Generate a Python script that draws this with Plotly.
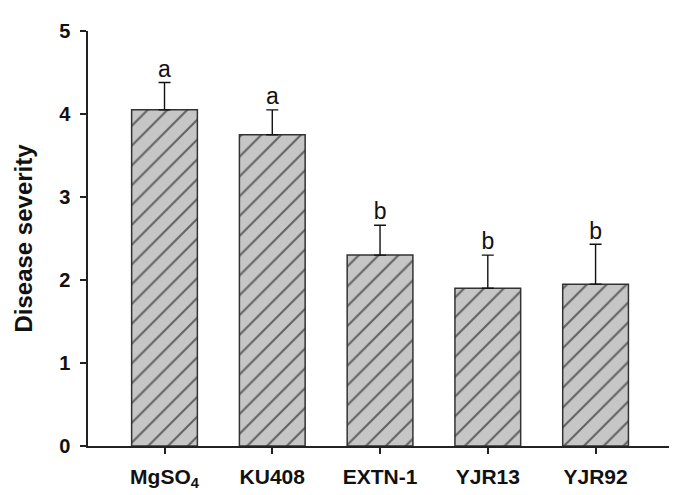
import plotly.graph_objects as go

categories = ["MgSO<sub>4</sub>", "KU408", "EXTN-1", "YJR13", "YJR92"]
severity = [4.05, 3.75, 2.30, 1.90, 1.95]
errors = [0.33, 0.30, 0.36, 0.40, 0.48]
letters = ["a", "a", "b", "b", "b"]

x_idx = list(range(len(categories)))

fig = go.Figure()
fig.add_trace(go.Bar(
    x=x_idx, y=severity, width=0.61,
    marker=dict(color="#c6c6c6",
                line=dict(color="#333333", width=1.5),
                pattern=dict(shape="/", fgcolor="#000000", size=14, solidity=0.15)),
    error_y=dict(type="data", symmetric=False, array=errors,
                 arrayminus=[0] * len(errors),
                 color="#111111", thickness=1.4, width=6),
    showlegend=False,
))

fig.add_trace(go.Scatter(
    x=x_idx, y=[v + e for v, e in zip(severity, errors)],
    mode="text", text=letters, textposition="top center",
    textfont=dict(family="Liberation Sans, Arial", size=23, color="#111111"),
    showlegend=False, cliponaxis=False,
))

fig.update_layout(
    width=677, height=495,
    margin=dict(l=80, r=14, t=19, b=56),
    plot_bgcolor="white", paper_bgcolor="white",
    font=dict(family="Liberation Sans, Arial", color="#111111"),
    xaxis=dict(
        range=[-0.71, 4.70], tickmode="array", tickvals=x_idx,
        ticktext=["<b>" + c + "</b>" for c in categories],
        showline=True, linecolor="#222222", linewidth=1.5,
        ticks="outside", ticklen=6, tickcolor="#222222", tickwidth=1.5,
        tickfont=dict(size=21, family="Liberation Sans, Arial"),
        ticklabelstandoff=5, showgrid=False, zeroline=False,
    ),
    yaxis=dict(
        range=[0, 5], tickvals=[0, 1, 2, 3, 4, 5],
        ticktext=["<b>%d</b>" % v for v in [0, 1, 2, 3, 4, 5]],
        showline=True, linecolor="#222222", linewidth=1.5,
        ticks="outside", ticklen=6, tickcolor="#222222", tickwidth=1.5,
        tickfont=dict(size=20, family="Liberation Sans, Arial"),
        ticklabelstandoff=6, showgrid=False, zeroline=False,
        title=dict(text="<b>Disease severity</b>",
                   font=dict(size=24, family="Liberation Sans, Arial"),
                   standoff=20),
    ),
)

fig.write_html("out.html")
